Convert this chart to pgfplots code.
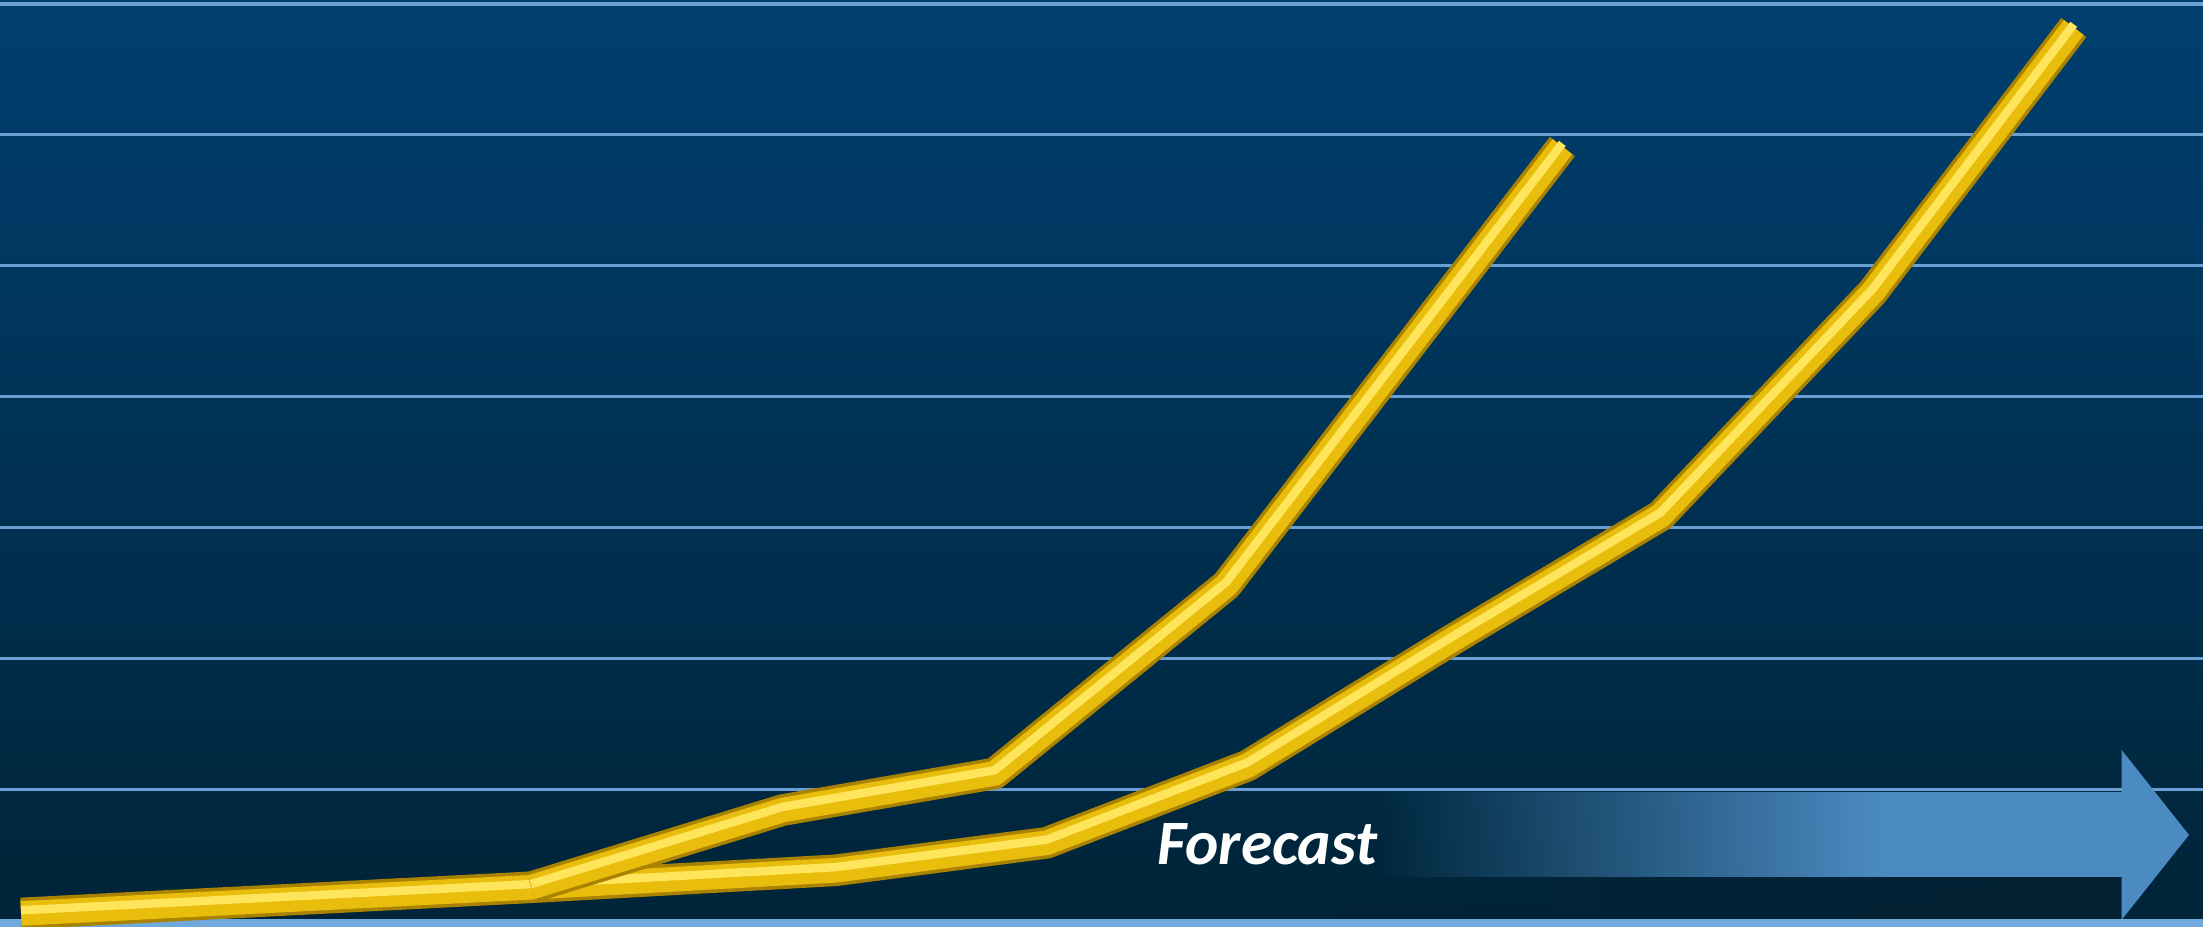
\documentclass[border=0pt]{standalone}
\usepackage{fontspec}
\setmainfont{Carlito}
\usepackage{pgfplots}
\pgfplotsset{compat=1.18}
\usetikzlibrary{fadings}

\definecolor{bgtop}{HTML}{003F70}
\definecolor{bgmid}{HTML}{00355C}
\definecolor{bgbot}{HTML}{002438}
\definecolor{gridblue}{HTML}{6A9FD4}
\definecolor{baseblue}{HTML}{70AADD}
\definecolor{arrowblue}{HTML}{4C8BC2}
\definecolor{floordark}{HTML}{06202F}
\definecolor{golddark}{HTML}{A98200}
\definecolor{goldmid}{HTML}{E9BD0C}
\definecolor{goldhi}{HTML}{FFE55C}

\tikzfading[name=fadein, left color=transparent!100, right color=transparent!0]

% tube look: dark rim, gold body, light streak
\pgfplotsset{
  tube/.style={no marks, line join=round, line cap=butt},
}

\begin{document}
\begin{tikzpicture}
\begin{axis}[
    width=22.03cm, height=9.26cm,
    scale only axis,
    xmin=0, xmax=1568,
    ymin=-0.046, ymax=7.03,
    axis line style={draw=none},
    axis background/.style={top color=bgtop, middle color=bgmid, bottom color=bgbot},
    xtick=\empty,
    ytick={1,2,3,4,5,6,7},
    yticklabels={},
    major tick length=0pt,
    ymajorgrids,
    grid style={gridblue, line width=0.9pt},
]

% forecast arrow
\fill[floordark, path fading=fadein, opacity=0.6] (axis cs:950,0) rectangle (axis cs:1511,0.33);
\fill[arrowblue, path fading=fadein] (axis cs:980,0.33) rectangle (axis cs:1340,0.98);
\fill[arrowblue] (axis cs:1339,0.33) rectangle (axis cs:1511,0.98);
\fill[arrowblue] (axis cs:1510,0.0) -- (axis cs:1558,0.65) -- (axis cs:1510,1.30) -- cycle;
\node[text=white, font=\bfseries\itshape\fontsize{18}{22}\selectfont] at (axis cs:902,0.58) {Forecast};

% base line
\draw[baseblue, line width=2.2pt] (axis cs:0,-0.023) -- (axis cs:1568,-0.023);

% series A (longer)
\addplot[tube, golddark, line width=9pt] coordinates {
  (15,0.05) (378,0.25) (595,0.38) (745,0.59) (888,1.18) (1035,2.15) (1182,3.09) (1333,4.80) (1476,6.82)};
\addplot[tube, goldmid, line width=7pt] coordinates {
  (15,0.05) (378,0.25) (595,0.38) (745,0.59) (888,1.18) (1035,2.15) (1182,3.09) (1333,4.80) (1476,6.82)};
\addplot[tube, goldhi, line width=2.4pt, yshift=0.9pt] coordinates {
  (15,0.05) (378,0.25) (595,0.38) (745,0.59) (888,1.18) (1035,2.15) (1182,3.09) (1333,4.80) (1476,6.82)};

% series B (steeper)
\addplot[tube, golddark, line width=9pt] coordinates {
  (378,0.25) (557,0.84) (708,1.12) (873,2.56) (1112,5.91)};
\addplot[tube, goldmid, line width=7pt] coordinates {
  (378,0.25) (557,0.84) (708,1.12) (873,2.56) (1112,5.91)};
\addplot[tube, goldhi, line width=2.4pt, yshift=0.9pt] coordinates {
  (378,0.25) (557,0.84) (708,1.12) (873,2.56) (1112,5.91)};

\end{axis}
\pgfresetboundingbox
\useasboundingbox (current axis.south west) rectangle (current axis.north east);
\end{tikzpicture}
\end{document}
